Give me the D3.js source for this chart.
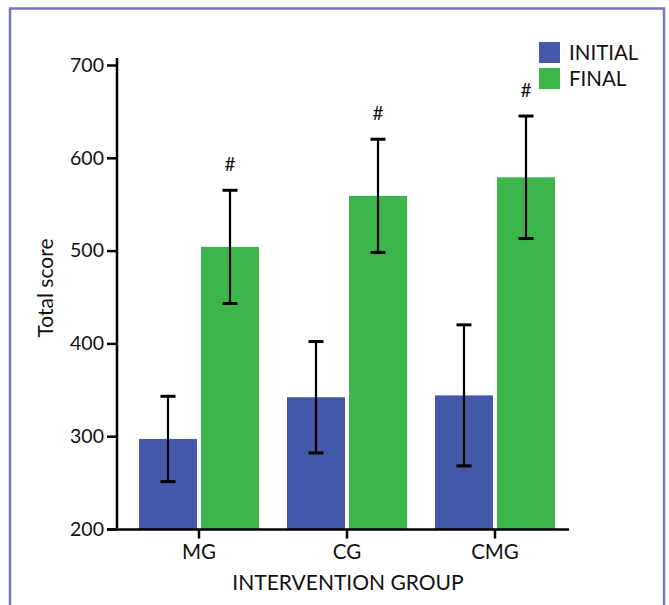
<!DOCTYPE html>
<html>
<head>
<meta charset="utf-8">
<script src="https://cdn.jsdelivr.net/npm/d3@7"></script>
<style>
  html, body { margin: 0; padding: 0; background: #fff; }
  svg { display: block; }
  text { font-family: Lato, "Open Sans", sans-serif; fill: #111; }
</style>
</head>
<body>
<svg id="chart" width="669" height="605"></svg>
<script>
// Groups and measurements
const groups = ["MG", "CG", "CMG"];
const phases = ["INITIAL", "FINAL"];
const initialMean = [297, 342, 344];
const initialErr = [46, 60, 76];
const finalMean = [504, 559, 579];
const finalErr = [61, 61, 66];
const significance = ["#", "#", "#"];
const yTicks = [200, 300, 400, 500, 600, 700];
const colors = { INITIAL: "#4358a8", FINAL: "#3cb54a" };

const svg = d3.select("#chart");

// Outer frame (open at the bottom)
svg.append("rect")
  .attr("x", 10).attr("y", 8.5)
  .attr("width", 654).attr("height", 700)
  .attr("fill", "none")
  .attr("stroke", "#7478c4")
  .attr("stroke-width", 2.5);

const y = d3.scaleLinear().domain([200, 700]).range([529, 65]);
const x = d3.scaleBand().domain(groups).range([125, 569]).paddingInner(0).paddingOuter(0);
const xSub = d3.scaleBand().domain(phases).range([14, x.bandwidth() - 14]).paddingInner(0.065);

const rows = groups.map((g, i) => [
  { group: g, phase: "INITIAL", mean: initialMean[i], err: initialErr[i] },
  { group: g, phase: "FINAL", mean: finalMean[i], err: finalErr[i] }
]).flat();

// Bars
svg.append("g").selectAll("rect")
  .data(rows).join("rect")
  .attr("x", d => x(d.group) + xSub(d.phase))
  .attr("y", d => y(d.mean))
  .attr("width", xSub.bandwidth())
  .attr("height", d => y(200) - y(d.mean))
  .attr("fill", d => colors[d.phase]);

// Error bars
const eb = svg.append("g").attr("stroke", "#000");
rows.forEach(d => {
  const cx = x(d.group) + xSub(d.phase) + xSub.bandwidth() / 2;
  eb.append("line").attr("x1", cx).attr("x2", cx)
    .attr("y1", y(d.mean + d.err)).attr("y2", y(d.mean - d.err))
    .attr("stroke-width", 2.2);
  [d.mean + d.err, d.mean - d.err].forEach(v => {
    eb.append("line").attr("x1", cx - 7.5).attr("x2", cx + 7.5)
      .attr("y1", y(v)).attr("y2", y(v))
      .attr("stroke-width", 3);
  });
});

// Significance markers
svg.append("g").selectAll("text")
  .data(groups).join("text")
  .attr("x", (g) => x(g) + xSub("FINAL") + xSub.bandwidth() / 2)
  .attr("y", (g, i) => y(finalMean[i] + finalErr[i]) - 19)
  .attr("text-anchor", "middle")
  .attr("font-size", 19)
  .text((g, i) => significance[i]);

// Y axis
const yAxis = svg.append("g").attr("transform", "translate(117,0)")
  .call(d3.axisLeft(y).tickValues(yTicks).tickSize(10).tickPadding(3));
yAxis.select(".domain").remove();
yAxis.selectAll(".tick line").attr("stroke", "#000").attr("stroke-width", 2.5);
yAxis.selectAll(".tick text").attr("font-size", 19.5).attr("fill", "#111").attr("font-family", "Lato, sans-serif");
svg.append("line").attr("x1", 117).attr("x2", 117).attr("y1", 58).attr("y2", 528)
  .attr("stroke", "#000").attr("stroke-width", 2.5);

// X axis
const xAxis = svg.append("g").attr("transform", "translate(0,529.5)")
  .call(d3.axisBottom(x).tickSize(9).tickPadding(6));
xAxis.select(".domain").remove();
xAxis.selectAll(".tick line").attr("stroke", "#000").attr("stroke-width", 2.5);
xAxis.selectAll(".tick text").attr("font-size", 20.5).attr("fill", "#111").attr("font-family", "Lato, sans-serif");
svg.append("line").attr("x1", 107).attr("x2", 569).attr("y1", 529.5).attr("y2", 529.5)
  .attr("stroke", "#000").attr("stroke-width", 2.5);

// Axis titles
svg.append("text")
  .attr("x", 348).attr("y", 590)
  .attr("text-anchor", "middle")
  .attr("font-size", 21)
  .text("INTERVENTION GROUP");
svg.append("text")
  .attr("transform", "translate(53,288) rotate(-90)")
  .attr("text-anchor", "middle")
  .attr("font-size", 21)
  .text("Total score");

// Legend
const legend = svg.append("g").attr("transform", "translate(539,42)");
phases.forEach((p, i) => {
  const row = legend.append("g").attr("transform", `translate(0,${i * 26})`);
  row.append("rect").attr("width", 21).attr("height", 21).attr("fill", colors[p]);
  row.append("text").attr("x", 30).attr("y", 17.5).attr("font-size", 20.5).text(p);
});
</script>
</body>
</html>
